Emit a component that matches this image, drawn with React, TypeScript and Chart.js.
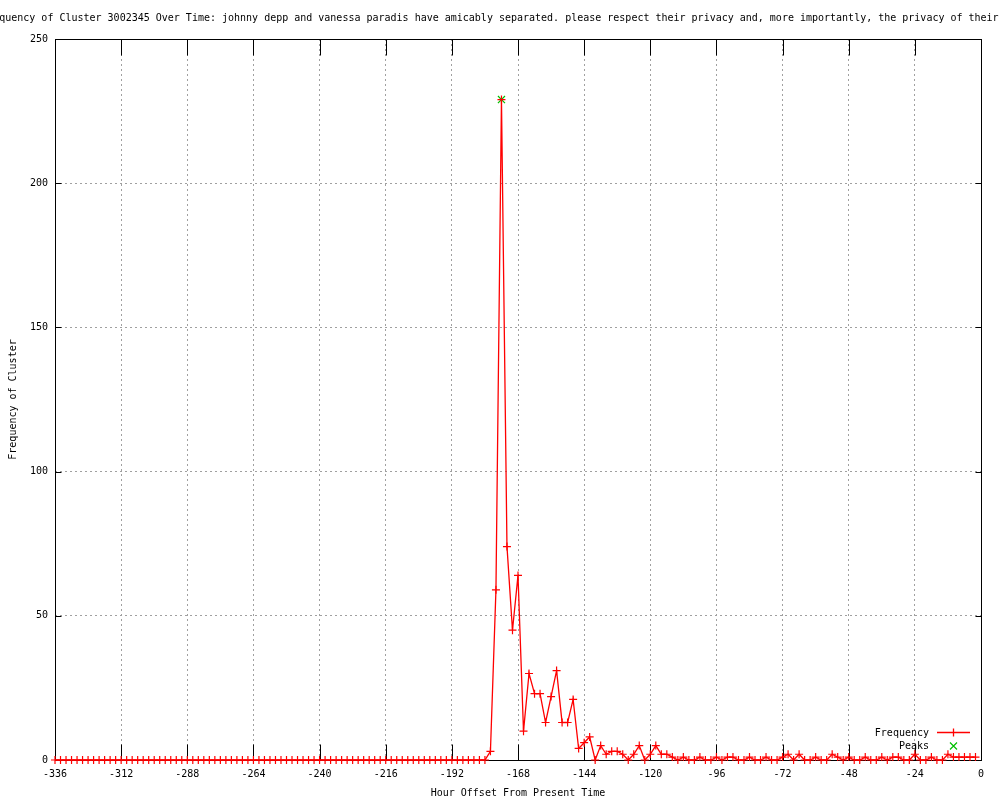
import React, { useEffect, useRef } from "react";
import { Chart, registerables } from "chart.js";

Chart.register(...registerables);

const TITLE =
  "Frequency of Cluster 3002345 Over Time: johnny depp and vanessa paradis have amicably separated. please respect their privacy and, more importantly, the privacy of their children.";
const X_TITLE = "Hour Offset From Present Time";
const Y_TITLE = "Frequency of Cluster";
const SERIES_LABELS = ["Frequency", "Peaks"];

const X_TICKS = [-336, -312, -288, -264, -240, -216, -192, -168, -144, -120, -96, -72, -48, -24, 0];
const Y_TICKS = [0, 50, 100, 150, 200, 250];

const HOURS = [
  -336, -334, -332, -330, -328, -326, -324, -322, -320, -318, -316, -314,
  -312, -310, -308, -306, -304, -302, -300, -298, -296, -294, -292, -290,
  -288, -286, -284, -282, -280, -278, -276, -274, -272, -270, -268, -266,
  -264, -262, -260, -258, -256, -254, -252, -250, -248, -246, -244, -242,
  -240, -238, -236, -234, -232, -230, -228, -226, -224, -222, -220, -218,
  -216, -214, -212, -210, -208, -206, -204, -202, -200, -198, -196, -194,
  -192, -190, -188, -186, -184, -182, -180, -178, -176, -174, -172, -170,
  -168, -166, -164, -162, -160, -158, -156, -154, -152, -150, -148, -146,
  -144, -142, -140, -138, -136, -134, -132, -130, -128, -126, -124, -122,
  -120, -118, -116, -114, -112, -110, -108, -106, -104, -102, -100, -98,
  -96, -94, -92, -90, -88, -86, -84, -82, -80, -78, -76, -74,
  -72, -70, -68, -66, -64, -62, -60, -58, -56, -54, -52, -50,
  -48, -46, -44, -42, -40, -38, -36, -34, -32, -30, -28, -26,
  -24, -22, -20, -18, -16, -14, -12, -10, -8, -6, -4, -2,
];

const FREQUENCY = [
  0, 0, 0, 0, 0, 0, 0, 0, 0, 0, 0, 0,
  0, 0, 0, 0, 0, 0, 0, 0, 0, 0, 0, 0,
  0, 0, 0, 0, 0, 0, 0, 0, 0, 0, 0, 0,
  0, 0, 0, 0, 0, 0, 0, 0, 0, 0, 0, 0,
  0, 0, 0, 0, 0, 0, 0, 0, 0, 0, 0, 0,
  0, 0, 0, 0, 0, 0, 0, 0, 0, 0, 0, 0,
  0, 0, 0, 0, 0, 0, 0, 3, 59, 229, 74, 45,
  64, 10, 30, 23, 23, 13, 22, 31, 13, 13, 21, 4,
  6, 8, 0, 5, 2, 3, 3, 2, 0, 2, 5, 0,
  2, 5, 2, 2, 1, 0, 1, 0, 0, 1, 0, 0,
  1, 0, 1, 1, 0, 0, 1, 0, 0, 1, 0, 0,
  1, 2, 0, 2, 0, 0, 1, 0, 0, 2, 1, 0,
  1, 0, 0, 1, 0, 0, 1, 0, 1, 1, 0, 0,
  2, 0, 0, 1, 0, 0, 2, 1, 1, 1, 1, 1,
];

const PEAK_HOURS = [-174];
const PEAK_VALUES = [229];

const FONT_FAMILY = '"DejaVu Sans Mono", "Liberation Mono", monospace';
const FONT = { family: FONT_FAMILY, size: 10 };
const RED = "#ff0000";
const GREEN = "#00c000";

const decorPlugin = {
  id: "gnuplotDecor",
  beforeDatasetsDraw(chart: any) {
    const { ctx, chartArea, scales } = chart;
    const l = Math.floor(chartArea.left) + 0.5;
    const r = Math.floor(chartArea.right) + 0.5;
    const t = Math.floor(chartArea.top) + 0.5;
    const b = Math.floor(chartArea.bottom) + 0.5;
    ctx.save();
    ctx.strokeStyle = "#000";
    ctx.lineWidth = 1;
    ctx.setLineDash([]);
    ctx.beginPath();
    const xt = 16;
    const yt = 6;
    for (const v of X_TICKS) {
      const px = Math.round(scales.x.getPixelForValue(v)) + 0.5;
      ctx.moveTo(px, b);
      ctx.lineTo(px, b - xt);
      ctx.moveTo(px, t);
      ctx.lineTo(px, t + xt);
    }
    for (const v of Y_TICKS) {
      const py = Math.round(scales.y.getPixelForValue(v)) + 0.5;
      ctx.moveTo(l, py);
      ctx.lineTo(l + yt, py);
      ctx.moveTo(r, py);
      ctx.lineTo(r - yt, py);
    }
    ctx.stroke();
    ctx.strokeRect(l, t, r - l, b - t);
    ctx.restore();
  },
  afterDraw(chart: any) {
    const { ctx } = chart;
    ctx.save();
    ctx.font = `10px ${FONT_FAMILY}`;
    ctx.fillStyle = "#000";
    ctx.textBaseline = "middle";
    ctx.textAlign = "center";
    ctx.fillText(TITLE, 520, 18);

    // legend
    ctx.textAlign = "right";
    ctx.fillText(SERIES_LABELS[0], 929, 733);
    ctx.fillText(SERIES_LABELS[1], 929, 746);
    ctx.lineWidth = 1.3;
    ctx.strokeStyle = RED;
    ctx.beginPath();
    ctx.moveTo(937, 732.5);
    ctx.lineTo(970, 732.5);
    ctx.moveTo(953.5, 728.5);
    ctx.lineTo(953.5, 736.5);
    ctx.stroke();
    ctx.strokeStyle = GREEN;
    ctx.lineWidth = 1.2;
    ctx.beginPath();
    ctx.moveTo(950, 742.5);
    ctx.lineTo(957, 749.5);
    ctx.moveTo(957, 742.5);
    ctx.lineTo(950, 749.5);
    ctx.stroke();
    ctx.restore();
  },
};

export default function App() {
  const ref = useRef<HTMLCanvasElement>(null);

  useEffect(() => {
    if (!ref.current) return;
    const chart = new Chart(ref.current, {
      type: "line",
      data: {
        datasets: [
          {
            label: SERIES_LABELS[1],
            data: PEAK_HOURS.map((h, i) => ({ x: h, y: PEAK_VALUES[i] })),
            showLine: false,
            pointStyle: "crossRot",
            pointRadius: 5,
            pointBorderWidth: 1.2,
            borderColor: GREEN,
            pointBorderColor: GREEN,
            clip: false,
            order: 2,
          } as any,
          {
            label: SERIES_LABELS[0],
            data: HOURS.map((h, i) => ({ x: h, y: FREQUENCY[i] })),
            borderColor: RED,
            borderWidth: 1.3,
            pointStyle: "cross",
            pointRadius: 4,
            pointBorderWidth: 1.2,
            pointBorderColor: RED,
            tension: 0,
            clip: false,
            order: 1,
          } as any,
        ],
      },
      options: {
        responsive: false,
        animation: false,
        events: [],
        layout: { padding: { left: 0, right: 19, top: 39, bottom: 0 } },
        plugins: {
          legend: { display: false },
          title: { display: false },
          tooltip: { enabled: false },
        },
        scales: {
          x: {
            type: "linear",
            min: -336,
            max: 0,
            afterBuildTicks: (s: any) => {
              s.ticks = X_TICKS.map((v) => ({ value: v }));
            },
            afterFit: (s: any) => {
              s.height = 40;
            },
            ticks: {
              font: FONT,
              color: "#000",
              padding: 8,
              maxRotation: 0,
              autoSkip: false,
              callback: (v: any) => String(v),
            },
            grid: { color: "#a0a0a0", lineWidth: 1, drawTicks: false },
            border: { display: false, dash: [2, 3] },
            title: {
              display: true,
              text: X_TITLE,
              font: FONT,
              color: "#000",
              padding: { top: 0, bottom: 1 },
            },
          },
          y: {
            type: "linear",
            min: 0,
            max: 250,
            afterBuildTicks: (s: any) => {
              s.ticks = Y_TICKS.map((v) => ({ value: v }));
            },
            afterFit: (s: any) => {
              s.width = 55;
            },
            ticks: {
              font: FONT,
              color: "#000",
              padding: 7,
              callback: (v: any) => String(v),
            },
            grid: { color: "#a0a0a0", lineWidth: 1, drawTicks: false },
            border: { display: false, dash: [2, 3] },
            title: {
              display: true,
              text: Y_TITLE,
              font: FONT,
              color: "#000",
              padding: { top: 7, bottom: 0 },
            },
          },
        },
      } as any,
      plugins: [decorPlugin],
    });
    return () => chart.destroy();
  }, []);

  return (
    <div style={{ position: "fixed", left: 0, top: 0, width: 1000, height: 800, background: "#fff" }}>
      <canvas ref={ref} width={1000} height={800} style={{ display: "block" }} />
    </div>
  );
}
